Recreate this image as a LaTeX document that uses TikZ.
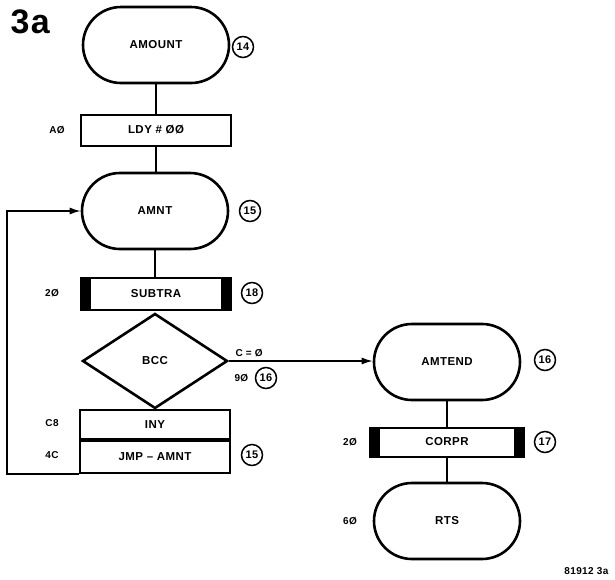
\documentclass[tikz,border=0pt]{standalone}
\usepackage{fontspec}
\setmainfont{Liberation Sans}[LetterSpace=4]
\usetikzlibrary{shapes.geometric,arrows.meta}
\begin{document}
\begin{tikzpicture}[x=1pt,y=-1pt,
  font=\bfseries\fontsize{11.5}{13}\selectfont,
  stadium/.style={draw,line width=2.6pt,rounded corners=38pt,minimum width=146pt,minimum height=76pt,inner sep=0pt},
  stepbox/.style={draw,line width=2pt,minimum width=150pt,minimum height=31pt,inner sep=0pt},
  barbox/.style={stepbox,path picture={
     \fill (path picture bounding box.north west) rectangle ([xshift=10pt]path picture bounding box.south west);
     \fill (path picture bounding box.north east) rectangle ([xshift=-10pt]path picture bounding box.south east);}},
  decision/.style={draw,diamond,line width=2.6pt,aspect=1.53,minimum width=145pt,minimum height=95pt,inner sep=0pt},
  num/.style={draw,circle,line width=1.5pt,minimum size=21pt,inner sep=0pt,font=\bfseries\fontsize{11}{12}\selectfont},
  lab/.style={font=\bfseries\fontsize{10}{12}\selectfont},
  conn/.style={line width=1.4pt},
  arr/.style={conn,-{Latex[length=11pt,width=7pt]}}]
\useasboundingbox (0,0) rectangle (615,579);
\node[font=\bfseries\fontsize{34}{36}\selectfont,anchor=west] (title) at (7,22) {3a};
% left column
\node[stadium] (amount) at (156,45) {AMOUNT};
\node[num] (n14) at (243,47) {14};
\node[stepbox] (ldy) at (156,130) {LDY \# ØØ};
\node[lab] (lA0) at (57,130) {AØ};
\node[stadium] (amnt) at (155,211) {AMNT};
\node[num] (n15a) at (250,211) {15};
\node[barbox,minimum height=32pt] (subtra) at (156,294) {SUBTRA};
\node[lab] (l20a) at (52,293) {2Ø};
\node[num] (n18) at (252,293) {18};
\node[decision] (bcc) at (155,361) {BCC};
\node[lab,anchor=west] (ceq) at (232,353) {C = Ø};
\node[lab,anchor=west] (l90) at (231,378) {9Ø};
\node[num] (n16a) at (266,378) {16};
\node[stepbox,minimum height=29pt,anchor=north] (iny) at (155,409) {INY};
\node[stepbox,minimum height=32pt,anchor=north] (jmp) at (iny.south) {JMP -- AMNT};
\node[lab] (lC8) at (52,423) {C8};
\node[lab] (l4C) at (52,455) {4C};
\node[num] (n15b) at (252,455) {15};
% right column
\node[stadium] (amtend) at (447,362) {AMTEND};
\node[num] (n16b) at (545,360) {16};
\node[barbox,minimum width=154pt,minimum height=29pt] (corpr) at (447,442) {CORPR};
\node[lab] (l20b) at (350,442) {2Ø};
\node[num] (n17) at (545,442) {17};
\node[stadium] (rts) at (447,521) {RTS};
\node[lab] (l60) at (350,521) {6Ø};
\node[lab,anchor=east] (fig) at (612,571) {81912 3a};
% connectors
\draw[conn] (amount.south) -- (amount.south |- ldy.north);
\draw[conn] (ldy.south) -- (ldy.south |- amnt.north);
\draw[conn] (amnt.south) -- (amnt.south |- subtra.north);
\draw[arr] (bcc.east) -- (bcc.east -| amtend.west);
\draw[conn] (amtend.south) -- (amtend.south |- corpr.north);
\draw[conn] (corpr.south) -- (corpr.south |- rts.north);
\coordinate (loopc) at (7,470);
\draw[arr] (jmp.south west) -- (jmp.south west -| loopc) |- (amnt.west);
\end{tikzpicture}
\end{document}
